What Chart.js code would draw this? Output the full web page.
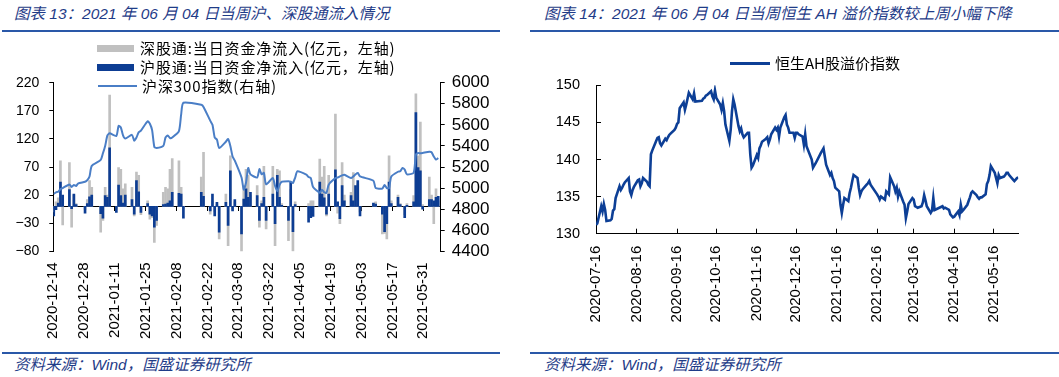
<!DOCTYPE html>
<html><head><meta charset="utf-8">
<script src="https://cdn.jsdelivr.net/npm/chart.js@4.4.0/dist/chart.umd.min.js"></script>
<style>
html,body{margin:0;padding:0;background:#fff;}
body{width:1059px;height:377px;position:relative;overflow:hidden;font-family:"Liberation Sans","Noto Sans CJK SC",sans-serif;}
.title{position:absolute;top:5px;font-style:italic;font-size:15.5px;color:#1f3c88;white-space:nowrap;line-height:18px;}
.rule{position:absolute;height:2px;background:#2a58a8;}
.src{position:absolute;top:356px;font-style:italic;font-size:15.5px;color:#1f3c88;white-space:nowrap;line-height:18px;}
.leg{position:absolute;display:flex;align-items:center;font-family:"Noto Sans CJK SC",sans-serif;font-size:15px;color:#000;white-space:nowrap;line-height:18px;height:18px;letter-spacing:0.9px;}
.sw{display:inline-block;flex:none;}
canvas{position:absolute;top:0;}
</style></head>
<body>
<div class="title" style="left:14px;">图表 13：2021 年 06 月 04 日当周沪、深股通流入情况</div>
<div class="title" style="left:544px;">图表 14：2021 年 06 月 04 日当周恒生 AH 溢价指数较上周小幅下降</div>
<div class="rule" style="left:2px;width:498px;top:30px;"></div>
<div class="rule" style="left:530px;width:529px;top:30px;"></div>
<canvas id="cL" width="500" height="350" style="left:0;"></canvas>
<canvas id="cR" width="529" height="350" style="left:530px;"></canvas>
<div class="leg" style="left:97px;top:39px;"><span class="sw" style="width:37px;height:7px;background:#c0c0c0;margin-right:6px;"></span><span id="lg1"></span></div>
<div class="leg" style="left:97px;top:58px;"><span class="sw" style="width:37px;height:7px;background:#0d3d93;margin-right:6px;"></span><span id="lg2"></span></div>
<div class="leg" style="left:98px;top:77px;"><span class="sw" style="width:39px;height:2px;background:#4a7ec6;margin-right:5px;"></span><span id="lg3"></span></div>
<div class="leg" style="left:730px;top:54px;letter-spacing:0;"><span class="sw" style="width:40px;height:3px;background:#0d3f96;margin-right:5px;"></span><span id="lg4"></span></div>
<div class="rule" style="left:2px;width:498px;top:352px;"></div>
<div class="rule" style="left:530px;width:529px;top:352px;"></div>
<div class="src" style="left:14px;">资料来源：Wind，国盛证券研究所</div>
<div class="src" style="left:544px;">资料来源：Wind，国盛证券研究所</div>
<script>
// ---------- Left chart data ----------
const seriesNames = ['深股通:当日资金净流入(亿元，左轴)', '沪股通:当日资金净流入(亿元，左轴)', '沪深300指数(右轴)', '恒生AH股溢价指数'];

const flowDates = [
'2020-12-14','2020-12-15','2020-12-16','2020-12-17','2020-12-18','2020-12-21','2020-12-22','2020-12-23','2020-12-24','2020-12-25','2020-12-28','2020-12-29','2020-12-30','2020-12-31',
'2021-01-04','2021-01-05','2021-01-06','2021-01-07','2021-01-08','2021-01-11','2021-01-12','2021-01-13','2021-01-14','2021-01-15','2021-01-18','2021-01-19','2021-01-20','2021-01-21','2021-01-22','2021-01-25','2021-01-26','2021-01-27','2021-01-28','2021-01-29',
'2021-02-01','2021-02-02','2021-02-03','2021-02-04','2021-02-05','2021-02-08','2021-02-09','2021-02-10','2021-02-18','2021-02-19','2021-02-22','2021-02-23','2021-02-24','2021-02-25','2021-02-26',
'2021-03-01','2021-03-02','2021-03-03','2021-03-04','2021-03-05','2021-03-08','2021-03-09','2021-03-10','2021-03-11','2021-03-12','2021-03-15','2021-03-16','2021-03-17','2021-03-18','2021-03-19','2021-03-22','2021-03-23','2021-03-24','2021-03-25','2021-03-26','2021-03-29','2021-03-30','2021-03-31',
'2021-04-01','2021-04-02','2021-04-06','2021-04-07','2021-04-08','2021-04-09','2021-04-12','2021-04-13','2021-04-14','2021-04-15','2021-04-16','2021-04-19','2021-04-20','2021-04-21','2021-04-22','2021-04-23','2021-04-26','2021-04-27','2021-04-28','2021-04-29','2021-04-30',
'2021-05-06','2021-05-07','2021-05-10','2021-05-11','2021-05-12','2021-05-13','2021-05-14','2021-05-17','2021-05-18','2021-05-19','2021-05-20','2021-05-21','2021-05-24','2021-05-25','2021-05-26','2021-05-27','2021-05-28','2021-05-31',
'2021-06-01','2021-06-02','2021-06-03','2021-06-04'];

// 深股通 net inflow (亿元)
const szFlow = [
-10,8,15,81,-33,78,-37,20,5,null,-6,12,46,34,
-46,-25,34,20,198,-5,69,66,31,40,34,-17,61,55,-15,10,-23,-20,-64,-34,
25,34,31,66,85,81,34,-5,52,96,-14,10,-10,3,-58,
22,-70,90,-5,8,-82,37,66,55,20,37,-37,10,71,-40,71,-70,66,63,5,-61,30,-80,
8,null,null,5,10,10,84,52,71,-17,55,164,-12,-31,78,20,25,60,35,40,-10,
5,8,-49,-48,-58,90,10,20,5,null,-15,5,19,200,90,150,3,52,
20,-31,31,10];

// 沪股通 net inflow (亿元)
const shFlow = [
-17,-6,6,43,20,30,-4,22,3,null,-12,5,17,20,
-13,-21,19,16,104,-11,38,19,6,20,12,-14,46,26,-11,5,-14,-17,-37,-25,
3,4,6,10,25,23,22,-21,25,18,-8,22,-17,7,-46,
7,-34,63,-8,12,-49,13,31,16,25,19,-25,5,16,-25,22,-31,55,16,2,-25,43,-45,
3,null,null,-28,-20,-18,43,22,15,-14,22,65,8,-22,37,10,19,10,37,46,-17,
6,4,-14,-45,-31,43,5,16,3,null,-20,2,8,167,69,63,-5,12,
12,10,16,18];

// 沪深300 index (right axis)
const hs300 = [
4945,4960,4965,4990,5000,5035,5010,5030,5020,5045,5060,5075,5110,5211,
5267,5330,5400,5500,5520,5495,5590,5575,5500,5470,5505,5450,5480,5530,5545,5634,5610,5550,5390,5380,
5400,5480,5500,5475,5480,5540,5700,5810,5790,5770,5640,5600,5480,5460,5380,
5440,5465,5400,5300,5260,5100,4985,5050,5190,5130,5100,5180,5130,5145,5035,5095,5020,4970,5030,5060,5065,5060,5048,
5100,5159,5127,5105,5095,5010,4955,4985,4960,4955,5032,5095,5100,5111,5120,5127,5095,5110,5130,5143,5111,
5070,5000,4995,5030,5000,5000,5110,5155,5160,5190,5175,5130,5145,5317,5333,5330,5333,5345,
5340,5300,5270,5285];

const leftTickLabels = ['2020-12-14','2020-12-28','2021-01-11','2021-01-25','2021-02-08','2021-02-22','2021-03-08','2021-03-22','2021-04-05','2021-04-19','2021-05-03','2021-05-17','2021-05-31'];
const leftYTicks = [-80,-30,20,70,120,170,220];
const rightYTicks = [4400,4600,4800,5000,5200,5400,5600,5800,6000];

// ---------- Right chart data ----------
const ahDates = [
'2020-07-16','2020-07-17','2020-07-20','2020-07-21','2020-07-22','2020-07-23','2020-07-24','2020-07-27','2020-07-28','2020-07-29','2020-07-30','2020-07-31',
'2020-08-03','2020-08-04','2020-08-05','2020-08-06','2020-08-07','2020-08-10','2020-08-11','2020-08-12','2020-08-13','2020-08-14','2020-08-17','2020-08-18','2020-08-19','2020-08-20','2020-08-21','2020-08-24','2020-08-25','2020-08-26','2020-08-27','2020-08-28','2020-08-31',
'2020-09-01','2020-09-02','2020-09-03','2020-09-04','2020-09-07','2020-09-08','2020-09-09','2020-09-10','2020-09-11','2020-09-14','2020-09-15','2020-09-16','2020-09-17','2020-09-18','2020-09-21','2020-09-22','2020-09-23','2020-09-24','2020-09-25','2020-09-28','2020-09-29','2020-09-30',
'2020-10-05','2020-10-06','2020-10-07','2020-10-08','2020-10-09','2020-10-12','2020-10-13','2020-10-14','2020-10-15','2020-10-16','2020-10-19','2020-10-20','2020-10-21','2020-10-22','2020-10-23','2020-10-26','2020-10-27','2020-10-28','2020-10-29','2020-10-30',
'2020-11-02','2020-11-03','2020-11-04','2020-11-05','2020-11-06','2020-11-09','2020-11-10','2020-11-11','2020-11-12','2020-11-13','2020-11-16','2020-11-17','2020-11-18','2020-11-19','2020-11-20','2020-11-23','2020-11-24','2020-11-25','2020-11-26','2020-11-27','2020-11-30',
'2020-12-01','2020-12-02','2020-12-03','2020-12-04','2020-12-07','2020-12-08','2020-12-09','2020-12-10','2020-12-11','2020-12-14','2020-12-15','2020-12-16','2020-12-17','2020-12-18','2020-12-21','2020-12-22','2020-12-23','2020-12-24','2020-12-28','2020-12-29','2020-12-30','2020-12-31',
'2021-01-04','2021-01-05','2021-01-06','2021-01-07','2021-01-08','2021-01-11','2021-01-12','2021-01-13','2021-01-14','2021-01-15','2021-01-18','2021-01-19','2021-01-20','2021-01-21','2021-01-22','2021-01-25','2021-01-26','2021-01-27','2021-01-28','2021-01-29',
'2021-02-01','2021-02-02','2021-02-03','2021-02-04','2021-02-05','2021-02-08','2021-02-09','2021-02-10','2021-02-11','2021-02-16','2021-02-17','2021-02-18','2021-02-19','2021-02-22','2021-02-23','2021-02-24','2021-02-25','2021-02-26',
'2021-03-01','2021-03-02','2021-03-03','2021-03-04','2021-03-05','2021-03-08','2021-03-09','2021-03-10','2021-03-11','2021-03-12','2021-03-15','2021-03-16','2021-03-17','2021-03-18','2021-03-19','2021-03-22','2021-03-23','2021-03-24','2021-03-25','2021-03-26','2021-03-29','2021-03-30','2021-03-31',
'2021-04-01','2021-04-07','2021-04-08','2021-04-09','2021-04-12','2021-04-13','2021-04-14','2021-04-15','2021-04-16','2021-04-19','2021-04-20','2021-04-21','2021-04-22','2021-04-23','2021-04-26','2021-04-27','2021-04-28','2021-04-29','2021-04-30',
'2021-05-03','2021-05-04','2021-05-05','2021-05-06','2021-05-07','2021-05-10','2021-05-11','2021-05-12','2021-05-13','2021-05-14','2021-05-17','2021-05-18','2021-05-19','2021-05-20','2021-05-21','2021-05-24','2021-05-25','2021-05-26','2021-05-27','2021-05-28','2021-05-31',
'2021-06-01','2021-06-02','2021-06-03','2021-06-04'];

const ahValues = [
131.2,131.4,133.7,133.0,134.0,133.2,131.7,131.8,132.0,133.1,133.3,134.8,
136.4,135.9,136.2,136.6,136.9,137.5,135.7,135.2,135.9,136.3,137.2,137.3,136.4,136.8,137.5,137.0,136.6,136.4,140.7,141.2,142.5,
142.9,143.0,142.2,141.9,142.8,142.6,143.0,143.3,143.5,144.0,144.3,144.8,145.0,146.9,147.7,146.7,147.4,148.2,149.0,148.1,148.9,147.8,
147.9,148.2,148.3,148.6,148.7,149.2,148.5,148.1,149.3,148.3,147.4,146.7,147.6,146.5,144.7,142.5,144.0,146.5,148.1,147.4,
144.5,143.8,144.2,143.4,143.0,143.6,143.6,140.7,138.9,139.2,140.6,140.2,141.5,141.9,142.4,142.8,143.0,142.2,142.7,143.4,144.3,
144.0,144.3,143.1,144.3,145.7,146.0,144.7,144.3,143.6,143.6,142.9,143.6,143.6,143.4,143.1,142.0,143.4,141.8,140.0,138.9,139.2,139.5,
140.9,141.2,141.5,140.4,139.3,137.9,138.2,137.5,137.1,136.2,135.7,133.9,132.8,133.9,134.8,134.4,135.5,136.2,137.1,137.9,
137.5,136.2,135.2,135.7,136.0,136.6,136.8,137.1,136.6,135.3,135.0,134.6,135.0,134.6,135.7,135.5,135.3,137.6,
136.4,135.7,136.2,135.0,135.7,134.3,133.9,132.1,133.0,134.0,134.8,134.6,133.7,133.6,133.5,133.7,134.2,135.2,134.5,133.7,132.8,133.1,134.8,
133.2,133.7,133.4,133.5,133.2,132.6,132.4,132.2,132.3,133.0,132.5,133.9,133.0,133.2,133.9,134.4,134.9,135.5,135.7,
135.2,134.9,134.7,134.9,134.9,135.3,136.7,137.1,137.9,139.1,138.2,137.5,136.8,137.9,137.5,137.7,137.9,138.2,138.2,137.9,137.3,
137.1,137.3,137.5,137.6];

const ahTickLabels = ['2020-07-16','2020-08-16','2020-09-16','2020-10-16','2020-11-16','2020-12-16','2021-01-16','2021-02-16','2021-03-16','2021-04-16','2021-05-16'];
const ahYTicks = [130,135,140,145,150];

// ---------- helpers ----------
const dayOf = (s, base) => Math.round((Date.parse(s) - Date.parse(base)) / 86400000);
const minus = v => String(v).replace('-', '\u2212');

document.getElementById('lg1').textContent = seriesNames[0];
document.getElementById('lg2').textContent = seriesNames[1];
document.getElementById('lg3').textContent = seriesNames[2];
document.getElementById('lg4').textContent = seriesNames[3];

Chart.defaults.font.family = "'Liberation Sans', Arial, sans-serif";
Chart.defaults.color = '#000';

// ---------- Left chart ----------
const L0 = flowDates[0];
const szData = flowDates.map((d, i) => ({x: dayOf(d, L0), y: szFlow[i]}));
const shData = flowDates.map((d, i) => ({x: dayOf(d, L0), y: shFlow[i]}));
const hsData = flowDates.map((d, i) => ({x: dayOf(d, L0), y: hs300[i]}));
const LX_MIN = -0.2, LX_MAX = 173.1, LABEL_STEP = 13.79;

new Chart(document.getElementById('cL'), {
  type: 'bar',
  data: { datasets: [
    { type: 'line', label: seriesNames[2], data: hsData, yAxisID: 'y1', borderColor: '#4a7ec6', borderWidth: 2, pointRadius: 0, tension: 0.2, order: 0 },
    { label: seriesNames[1], data: shData, yAxisID: 'y', backgroundColor: '#0d3d93', borderWidth: 0, barThickness: 2, grouped: false, order: 1 },
    { label: seriesNames[0], data: szData, yAxisID: 'y', backgroundColor: '#c0c0c0', borderWidth: 0, barThickness: 2, grouped: false, order: 2 }
  ]},
  options: {
    responsive: false, animation: false, devicePixelRatio: 1,
    layout: { padding: { top: 82.7, bottom: 98.7, left: 0, right: 0 } },
    plugins: { legend: { display: false }, tooltip: { enabled: false } },
    scales: {
      x: {
        type: 'linear', position: { y: 0 }, min: LX_MIN, max: LX_MAX, offset: false,
        grid: { display: true, offset: false, drawOnChartArea: false, drawTicks: true, tickLength: 4, tickColor: '#000' },
        border: { display: true, color: '#000', width: 1 },
        afterBuildTicks: s => { s.ticks = leftTickLabels.map((_, i) => ({ value: LX_MIN + i * LABEL_STEP })); },
        ticks: { autoSkip: false, minRotation: 90, maxRotation: 90, padding: 52, font: { size: 15 }, color: '#000',
                 callback: (v, i) => leftTickLabels[i] }
      },
      y: {
        position: 'left', min: -80, max: 220,
        afterBuildTicks: s => { s.ticks = leftYTicks.map(v => ({ value: v })); },
        grid: { drawOnChartArea: false, drawTicks: true, tickLength: 4, tickColor: '#000' },
        border: { display: true, color: '#000', width: 1 },
        ticks: { autoSkip: false, padding: 10, font: { size: 14 }, color: '#000', callback: v => minus(v) },
        afterFit: s => { s.width = 53.3; }
      },
      y1: {
        position: 'right', min: 4400, max: 6000,
        afterBuildTicks: s => { s.ticks = rightYTicks.map(v => ({ value: v })); },
        grid: { drawOnChartArea: false, drawTicks: true, tickLength: 4, tickColor: '#000' },
        border: { display: true, color: '#000', width: 1 },
        ticks: { autoSkip: false, padding: 7, font: { size: 17 }, color: '#000', callback: v => String(v) },
        afterFit: s => { s.width = 59.3; }
      }
    }
  }
});

// ---------- Right chart ----------
const R0 = ahDates[0];
const ahData = ahDates.map((d, i) => ({x: dayOf(d, R0), y: ahValues[i]}));

new Chart(document.getElementById('cR'), {
  type: 'line',
  data: { datasets: [
    { label: seriesNames[3], data: ahData, borderColor: '#0d3f96', borderWidth: 2.6, pointRadius: 0, tension: 0 }
  ]},
  options: {
    responsive: false, animation: false, devicePixelRatio: 1,
    layout: { padding: { top: 85.3, right: 40.7, left: 0, bottom: 0 } },
    plugins: { legend: { display: false }, tooltip: { enabled: false } },
    scales: {
      x: {
        type: 'linear', min: 0, max: dayOf(ahDates[ahDates.length - 1], R0),
        afterBuildTicks: s => { s.ticks = ahTickLabels.map(t => ({ value: dayOf(t, R0) })); },
        grid: { drawOnChartArea: false, drawTicks: true, tickLength: -5, tickColor: '#000' },
        border: { display: true, color: '#000', width: 1 },
        ticks: { autoSkip: false, minRotation: 90, maxRotation: 90, padding: 17, font: { size: 15 }, color: '#000',
                 callback: (v, i) => ahTickLabels[i] },
        afterFit: s => { s.height = 116.3; }
      },
      y: {
        min: 130, max: 150,
        afterBuildTicks: s => { s.ticks = ahYTicks.map(v => ({ value: v })); },
        grid: { drawOnChartArea: false, drawTicks: true, tickLength: -5, tickColor: '#000' },
        border: { display: true, color: '#000', width: 1 },
        ticks: { autoSkip: false, padding: 21, font: { size: 14.5 }, color: '#000' },
        afterFit: s => { s.width = 66; }
      }
    }
  }
});
</script>
</body></html>
